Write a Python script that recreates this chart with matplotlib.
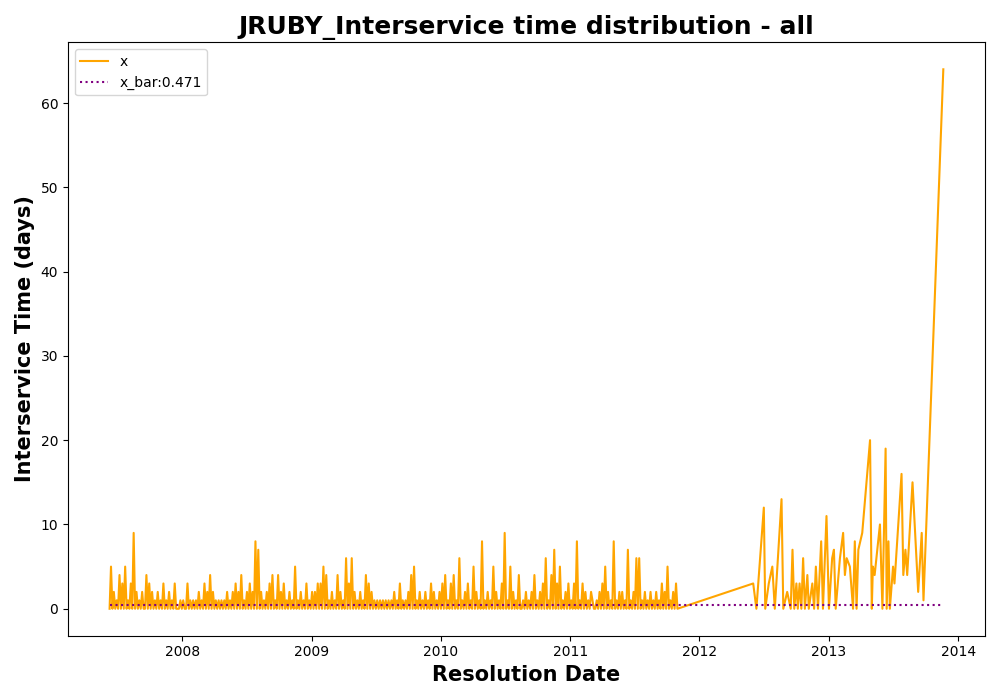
import matplotlib
matplotlib.use("Agg")
import matplotlib.pyplot as plt
import numpy as np
import pandas as pd

# dense part: one value every 4 days, typed digit by digit
dense_start = "2007-06-10"
dense_digits = (
    # 2007
    "0502010403050103090201020040302010201030102010300"
    # 2008
    "0101003010101020103020402010101010201020302040102030208070201020304010402030102010"
    # 2009
    "5010201030102020303050401020104020106030602010201040302010101010101010201030101"
    # 2010
    "020405010201020103020102030401030401060102030105020108010201050201030901050201040"
    # 2011
    "01020102040102030601040703050102030103080103020102100102030502010801020201070102060"
    # 2012 (to May)
    "6010201020102010302050102030"
)
dense_values = [int(c) for c in dense_digits]

# sparse tail, read point by point
tail_dates = ["2012-06-01", "2012-06-10", "2012-07-01", "2012-07-05", "2012-07-15", "2012-07-25",
              "2012-08-01", "2012-08-20", "2012-08-25", "2012-09-05", "2012-09-15", "2012-09-20",
              "2012-09-25", "2012-10-01", "2012-10-05", "2012-10-10", "2012-10-15", "2012-10-20",
              "2012-10-25", "2012-11-01", "2012-11-05", "2012-11-15", "2012-11-20", "2012-11-25",
              "2012-12-01", "2012-12-10", "2012-12-15", "2012-12-25", "2013-01-01", "2013-01-10",
              "2013-01-15", "2013-01-20", "2013-02-01", "2013-02-10", "2013-02-15", "2013-02-20",
              "2013-03-01", "2013-03-10", "2013-03-15", "2013-03-20", "2013-03-25", "2013-04-05",
              "2013-04-27", "2013-05-02", "2013-05-05", "2013-05-10", "2013-05-25", "2013-06-01",
              "2013-06-10", "2013-06-13", "2013-06-18", "2013-06-22", "2013-07-01", "2013-07-05",
              "2013-07-25", "2013-07-30", "2013-08-05", "2013-08-10", "2013-08-25", "2013-09-10",
              "2013-09-20", "2013-09-25", "2013-11-20"]
tail_values = [3, 0, 12, 0, 3, 5,
               0, 13, 0, 2, 0, 7,
               0, 3, 0, 3, 0, 6,
               0, 4, 0, 3, 0, 5,
               0, 8, 0, 11, 0, 6,
               7, 0, 6, 9, 4, 6,
               5, 0, 8, 0, 7, 9,
               20, 0, 5, 4, 10, 0,
               19, 0, 8, 0, 5, 3,
               16, 4, 7, 4, 15, 2,
               9, 1, 64]
x_bar = 0.471

dates = list(pd.date_range(dense_start, periods=len(dense_values), freq="4D")) + list(pd.to_datetime(tail_dates))
values = dense_values + tail_values

fig, ax = plt.subplots(figsize=(10, 7), dpi=100)
ax.plot(dates, values, color="orange", label="x")
ax.plot([dates[0], dates[-1]], [x_bar, x_bar], color="purple", linestyle=":", label=f"x_bar:{x_bar}")
ax.set_title("JRUBY_Interservice time distribution - all", fontsize=18, fontweight="bold")
ax.set_xlabel("Resolution Date", fontsize=15, fontweight="bold")
ax.set_ylabel("Interservice Time (days)", fontsize=15, fontweight="bold")
ax.legend(loc="upper left")
plt.tight_layout()
plt.savefig("out.png")
